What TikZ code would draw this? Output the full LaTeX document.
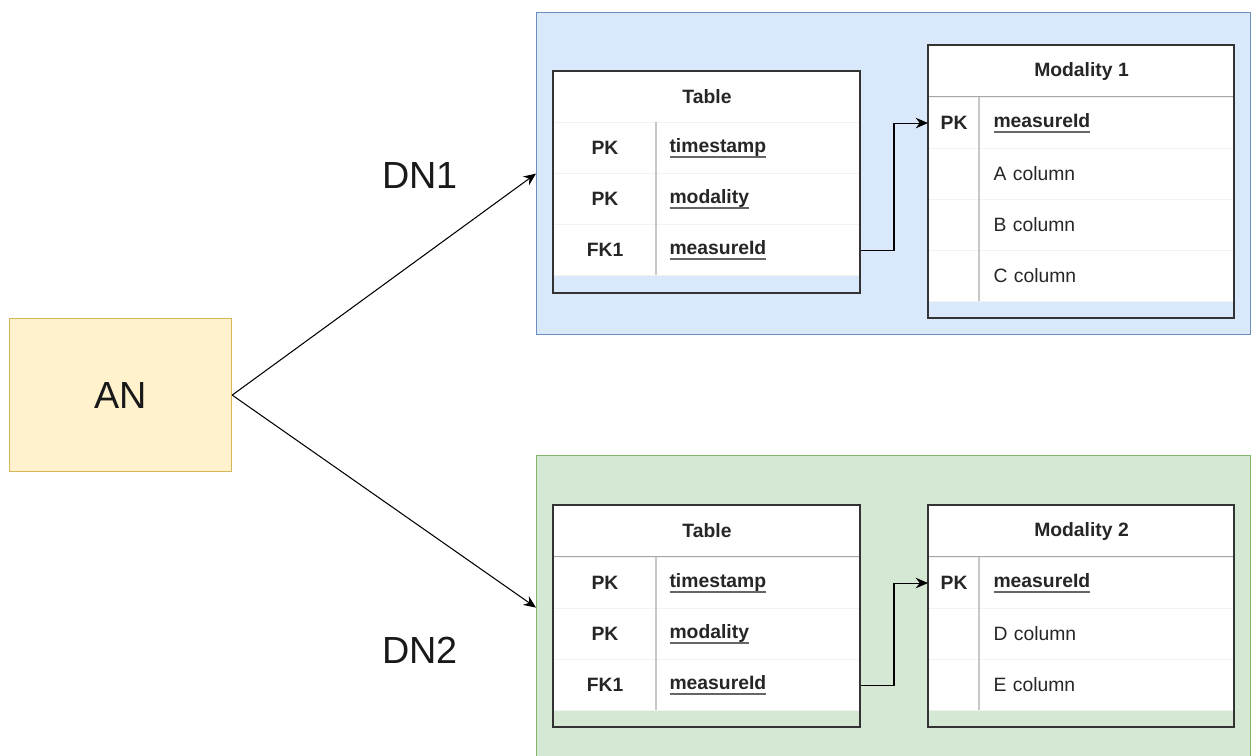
\documentclass[tikz,border=0pt]{standalone}
\usepackage{fontspec}
\setmainfont{Liberation Sans}
\usepackage{tikz}
\usetikzlibrary{arrows.meta,positioning}

\definecolor{anfill}{HTML}{FFF2CC}
\definecolor{andraw}{HTML}{D6B656}
\definecolor{dnonefill}{HTML}{DAE8FC}
\definecolor{dnonedraw}{HTML}{6C8EBF}
\definecolor{dntwofill}{HTML}{D5E8D4}
\definecolor{dntwodraw}{HTML}{82B366}

\newcommand{\ulfield}[1]{\bfseries\setbox0\hbox{#1}\rlap{\color{black!60}\rule[-3pt]{\wd0}{1.1pt}}\box0}

\tikzset{
  grp/.style={draw, anchor=north west, inner sep=0pt, line width=0.7pt},
  lbl/.style={font=\fontsize{21.5}{26}\selectfont, text=black!90},
  hdr/.style={draw=black!35, fill=white, anchor=north west, inner sep=0pt,
    minimum height=1.02cm, font=\fontsize{11}{13}\selectfont\bfseries, text=black!85},
  keycell/.style={draw=black!5, fill=white, anchor=north west, inner sep=0pt,
    minimum width=2.06cm, minimum height=1.02cm, font=\fontsize{11}{13}\selectfont\bfseries, text=black!85},
  fieldcell/.style={draw=black!5, fill=white, anchor=north west, inner ysep=0pt,
    inner xsep=0.26cm, text width=3.56cm, minimum height=1.02cm, align=left,
    font=\fontsize{11}{13}\selectfont, text=black!85},
  mkeycell/.style={keycell, minimum width=1.02cm},
  mfieldcell/.style={fieldcell, inner xsep=0.28cm, text width=4.54cm},
  coldiv/.style={draw=black!22, line width=0.6pt},
  tblframe/.style={draw=black!80, line width=0.8pt},
}

\begin{document}
\begin{tikzpicture}[x=0.02cm,y=-0.02cm,>={Stealth[length=7pt,width=6pt]},line width=0.6pt]
    \useasboundingbox (0,0) rectangle (1257,755);

    \node[grp,draw=dnonedraw,fill=dnonefill,minimum width=14.28cm,minimum height=6.44cm] (dn1) at (536,12)  {};
    \node[grp,draw=dntwodraw,fill=dntwofill,minimum width=14.28cm,minimum height=6.08cm] (dn2) at (536,455) {};
    \node[grp,draw=andraw,fill=anfill,minimum width=4.44cm,minimum height=3.06cm,lbl] (an) at (9,318) {AN};

    \node[lbl] (dn1label) at (420,175) {DN1};
    \node[lbl] (dn2label) at (420,650) {DN2};

    \node[hdr,minimum width=6.14cm] (t1)   at (553,71)  {Table};
    \node[keycell]                  (t1k1) at (553,122) {PK};
    \node[fieldcell]                (t1f1) at (656,122) {\ulfield{timestamp}};
    \node[keycell]                  (t1k2) at (553,173) {PK};
    \node[fieldcell]                (t1f2) at (656,173) {\ulfield{modality}};
    \node[keycell]                  (t1k3) at (553,224) {FK1};
    \node[fieldcell]                (t1f3) at (656,224) {\ulfield{measureId}};
    \draw[coldiv]   (656,122) -- (656,275);
    \draw[tblframe] (553,71) rectangle (860,293);

    \node[hdr,minimum width=6.12cm] (m1)   at (928,45)  {Modality 1};
    \node[mkeycell]                 (m1k1) at (928,97)  {PK};
    \node[mfieldcell]               (m1f1) at (979,97)  {\ulfield{measureId}};
    \node[mkeycell]                 (m1k2) at (928,148) {};
    \node[mfieldcell]               (m1f2) at (979,148) {A column};
    \node[mkeycell]                 (m1k3) at (928,199) {};
    \node[mfieldcell]               (m1f3) at (979,199) {B column};
    \node[mkeycell]                 (m1k4) at (928,250) {};
    \node[mfieldcell]               (m1f4) at (979,250) {C column};
    \draw[coldiv]   (979,97) -- (979,301);
    \draw[tblframe] (928,45) rectangle (1234,318);

    \node[hdr,minimum width=6.14cm] (t2)   at (553,505) {Table};
    \node[keycell]                  (t2k1) at (553,557) {PK};
    \node[fieldcell]                (t2f1) at (656,557) {\ulfield{timestamp}};
    \node[keycell]                  (t2k2) at (553,608) {PK};
    \node[fieldcell]                (t2f2) at (656,608) {\ulfield{modality}};
    \node[keycell]                  (t2k3) at (553,659) {FK1};
    \node[fieldcell]                (t2f3) at (656,659) {\ulfield{measureId}};
    \draw[coldiv]   (656,557) -- (656,710);
    \draw[tblframe] (553,505) rectangle (860,727);

    \node[hdr,minimum width=6.12cm] (m2)   at (928,505) {Modality 2};
    \node[mkeycell]                 (m2k1) at (928,557) {PK};
    \node[mfieldcell]               (m2f1) at (979,557) {\ulfield{measureId}};
    \node[mkeycell]                 (m2k2) at (928,608) {};
    \node[mfieldcell]               (m2f2) at (979,608) {D column};
    \node[mkeycell]                 (m2k3) at (928,659) {};
    \node[mfieldcell]               (m2f3) at (979,659) {E column};
    \draw[coldiv]   (979,557) -- (979,710);
    \draw[tblframe] (928,505) rectangle (1234,727);

  \path[->] (an.east)   edge  (dn1.west)
            (an.east)   edge  (dn2.west);
  \draw[->] (t1f3.east) -- ++(33,0) |- (m1k1.west);
  \draw[->] (t2f3.east) -- ++(33,0) |- (m2k1.west);
\end{tikzpicture}
\end{document}
